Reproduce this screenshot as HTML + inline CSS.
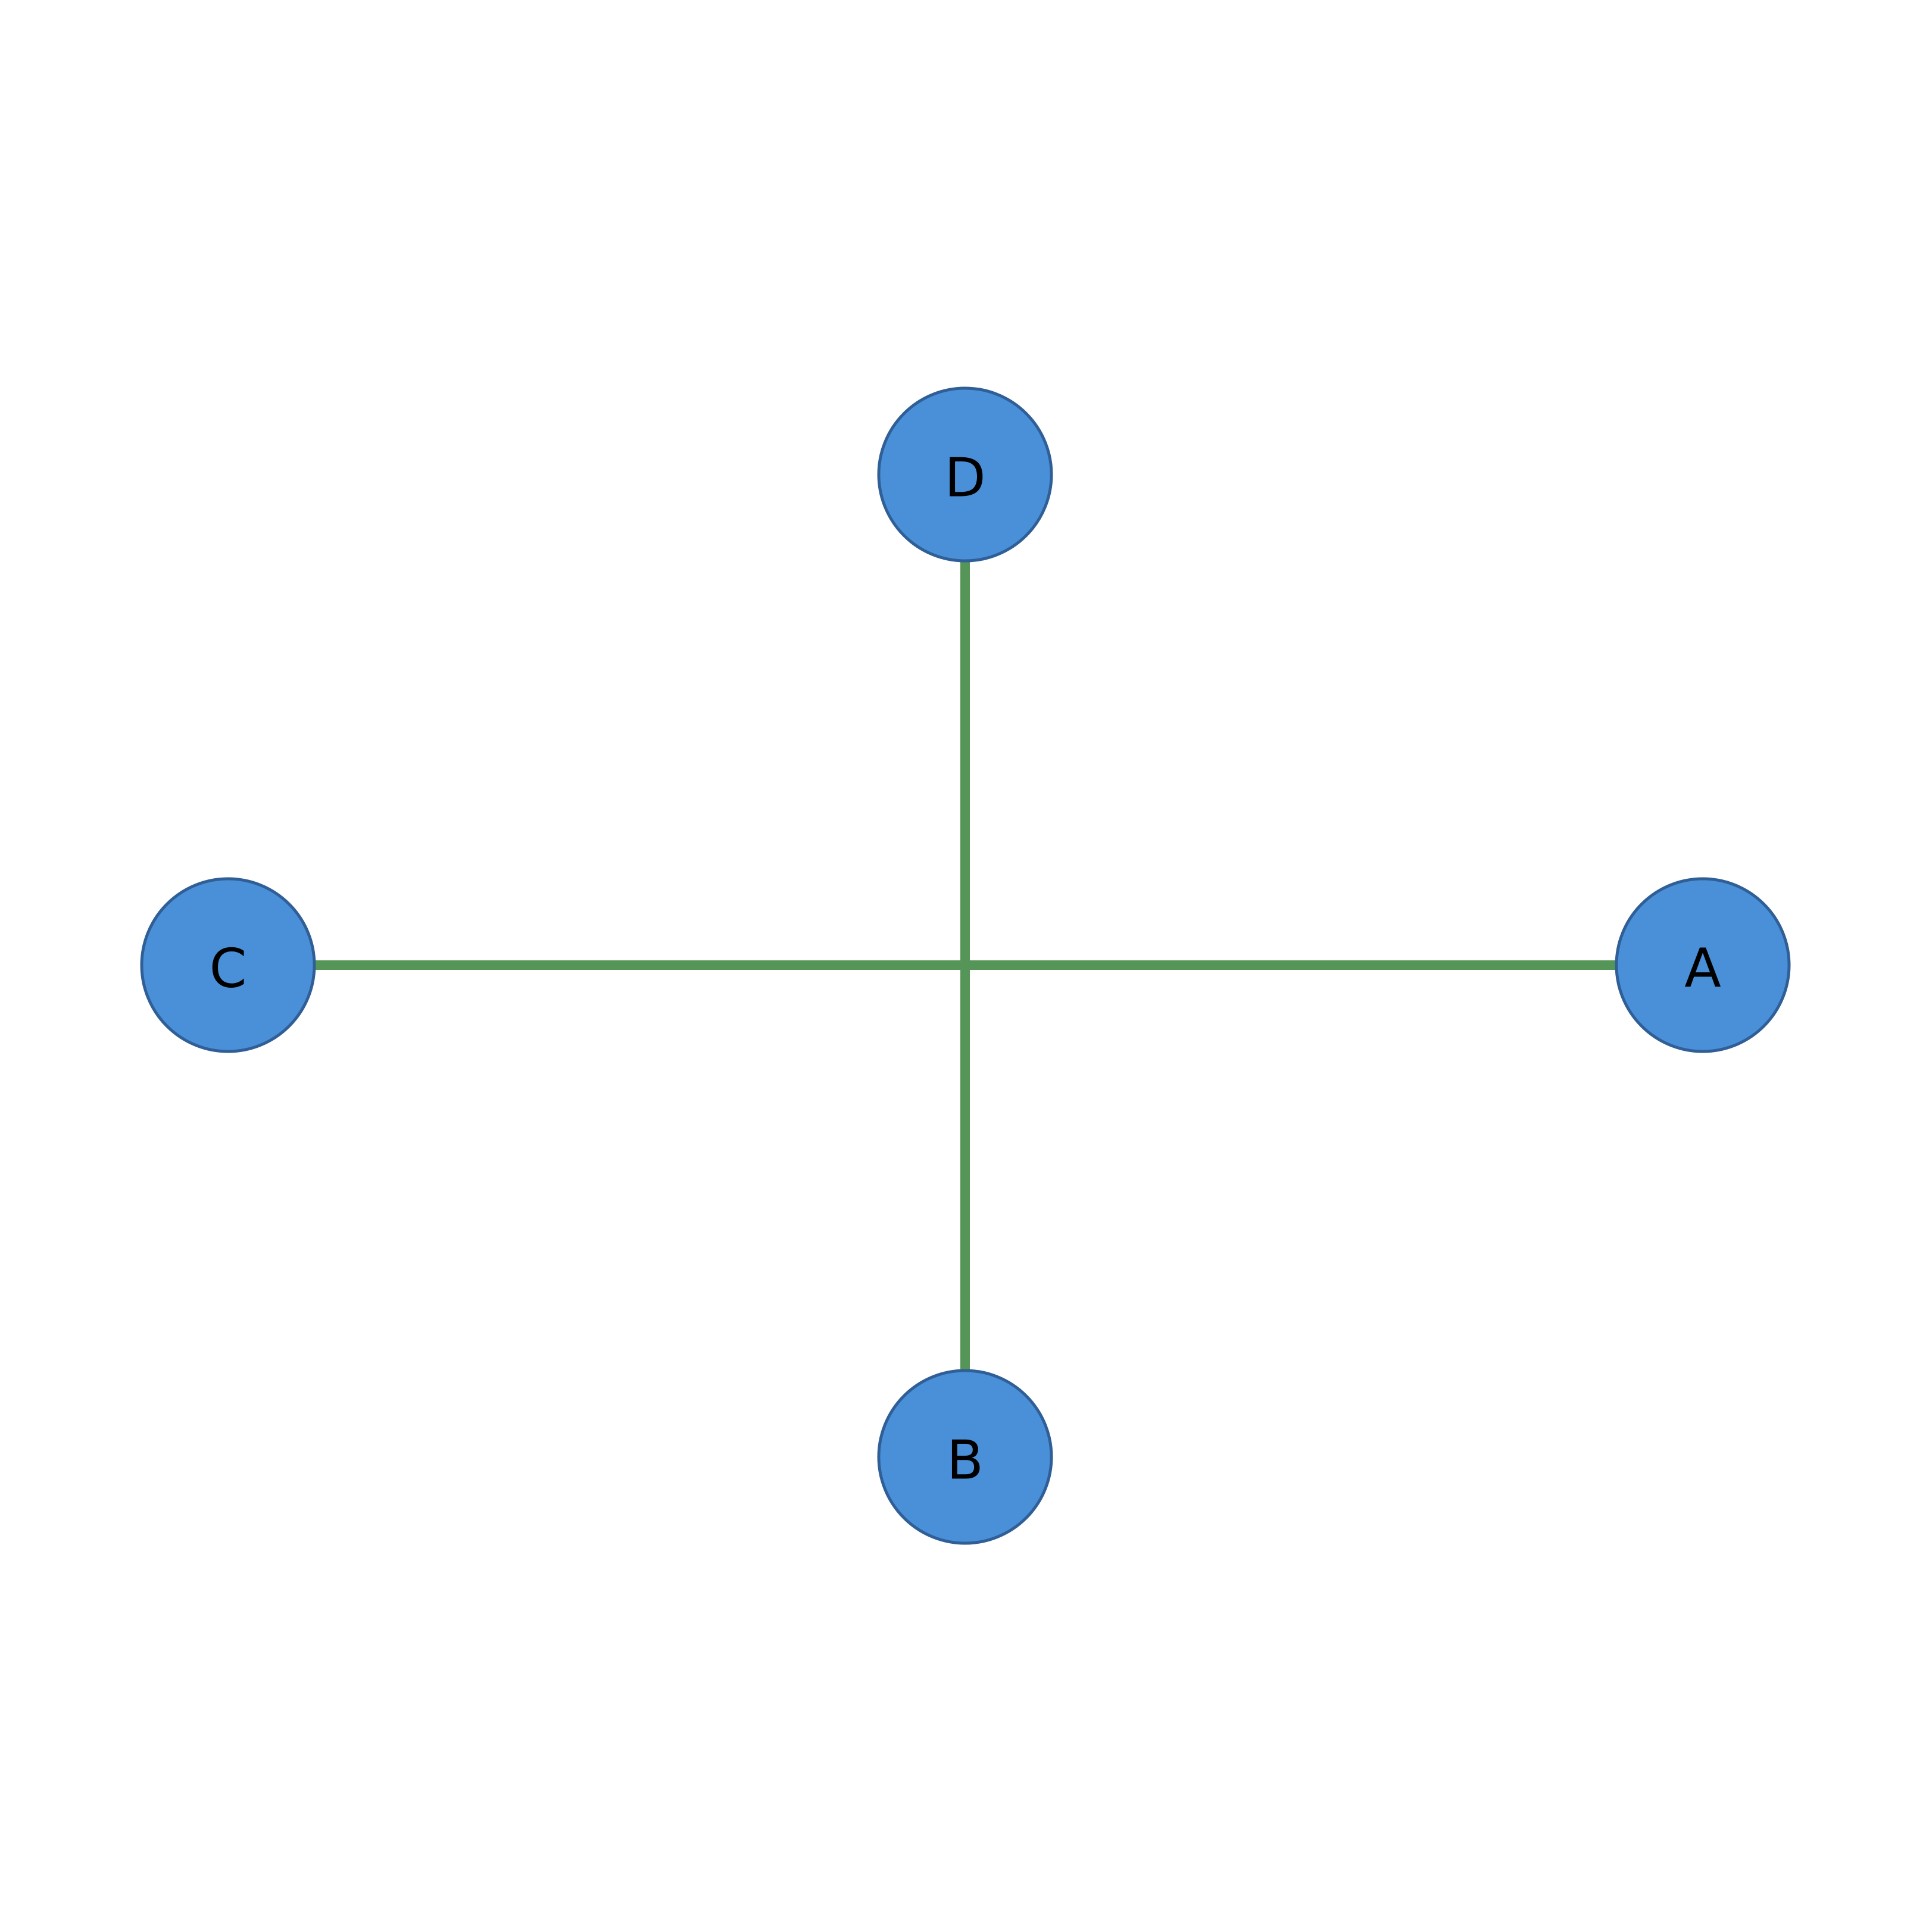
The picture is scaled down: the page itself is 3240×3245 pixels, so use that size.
<!DOCTYPE html>
<html><head><meta charset="utf-8"><style>html,body{margin:0;padding:0;background:#fff}</style></head>
<body>
<svg width="3240" height="3240" viewBox="0 0 3240 3240" xmlns="http://www.w3.org/2000/svg">
<rect width="3240" height="3240" fill="#ffffff"/>
<g stroke="#559558" stroke-width="16">
<line x1="1621" y1="798" x2="1621" y2="2448"/>
<line x1="383" y1="1621" x2="2860" y2="1621"/>
</g>
<g fill="#4a90d9" stroke="#2f5f96" stroke-width="5">
<circle cx="1621" cy="797" r="145"/>
<circle cx="383" cy="1621" r="145"/>
<circle cx="2860" cy="1621" r="145"/>
<circle cx="1621" cy="2447" r="145"/>
</g>
<g font-family="'DejaVu Sans','Liberation Sans',sans-serif" font-size="90" fill="#000" text-anchor="middle" dominant-baseline="central">
<text x="1621" y="803">D</text>
<text x="383" y="1627">C</text>
<text x="2860" y="1627">A</text>
<text x="1621" y="2453">B</text>
</g>
</svg>
</body></html>
